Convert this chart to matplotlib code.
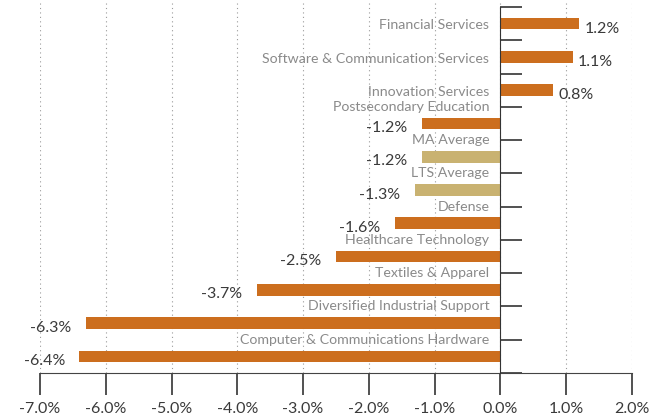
import matplotlib.pyplot as plt
import numpy as np

categories = ['Financial Services', 'Software & Communication Services', 'Innovation Services',
              'Postsecondary Education', 'MA Average', 'LTS Average', 'Defense',
              'Healthcare Technology', 'Textiles & Apparel', 'Diversified Industrial Support',
              'Computer & Communications Hardware']
values = [1.2, 1.1, 0.8, -1.2, -1.2, -1.3, -1.6, -2.5, -3.7, -6.3, -6.4]
is_average = [False, False, False, False, True, True, False, False, False, False, False]
x_ticks = [-7, -6, -5, -4, -3, -2, -1, 0, 1, 2]

plt.rcParams['font.family'] = ['Lato', 'DejaVu Sans']

orange = '#CC6E1E'
tan = '#C9B271'
label_grey = '#8a8a8a'
value_dark = '#3a3a3a'

fig = plt.figure(figsize=(6.6, 4.18), dpi=100)
ax = fig.add_axes([40 / 660, 45 / 418, 592 / 660, 373 / 418])

y = np.arange(len(categories))
colors = [tan if a else orange for a in is_average]
ax.barh(y, values, height=0.35, color=colors, zorder=3)

# dotted vertical grid
for t in x_ticks:
    ax.axvline(t, color='#9a9a9a', linestyle=(0, (1, 3)), linewidth=0.8, zorder=1)

ax.set_xlim(-7, 2)
ax.set_ylim(10.5, -0.5 - 7 / 33.2)

# category and value labels
for i, (cat, v) in enumerate(zip(categories, values)):
    if v >= 0:
        ax.text(-0.17, i + 0.05, cat, ha='right', va='center', fontsize=10.2, color=label_grey)
        ax.text(v + 0.08, i + 0.15, f'{v:.1f}%', ha='left', va='center', fontsize=11.5, color=value_dark)
    else:
        ax.text(-0.17, i - 0.5, cat, ha='right', va='center', fontsize=10.2, color=label_grey)
        ax.text(v - 0.22, i + 0.14, f'{v:.1f}%', ha='right', va='center', fontsize=11.5, color=value_dark)

# axes styling
ax.spines['top'].set_visible(False)
ax.spines['right'].set_visible(False)
ax.spines['left'].set_position(('data', 0))
ax.spines['left'].set_bounds(-0.5, 10.5)
ax.spines['left'].set_color('#333333')
ax.spines['left'].set_zorder(4)
ax.spines['bottom'].set_color('#444444')

ax.set_yticks(np.arange(-0.5, len(categories), 1.0))
ax.set_yticklabels([])
ax.tick_params(axis='y', direction='in', length=16, width=1.2, color='#333333')

ax.set_xticks(x_ticks)
ax.set_xticklabels([f'{t:.1f}%' for t in x_ticks])
ax.tick_params(axis='x', direction='out', length=16, width=1.2, color='#333333',
               labelsize=11.5, labelcolor=value_dark, pad=5)

fig.savefig('out.png', dpi=100)
